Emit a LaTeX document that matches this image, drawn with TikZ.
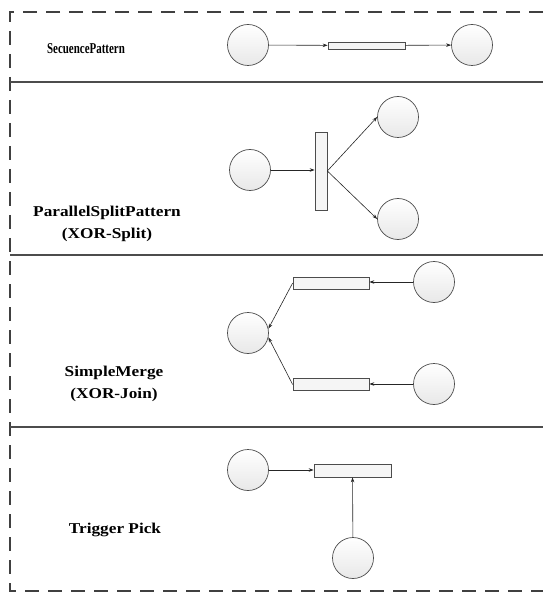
\documentclass[tikz,border=0pt]{standalone}
\usepackage{fontspec}
\setmainfont{Liberation Serif}
\usetikzlibrary{arrows.meta, positioning}

\begin{document}
\begin{tikzpicture}[x=1pt, y=-1pt,
    plc/.style={draw=gray!60!black, circle, minimum size=41pt, inner sep=0pt, top color=white, bottom color=gray!18, line width=0.7pt},
    trans/.style={draw=gray!60!black, rectangle, inner sep=0pt, fill=gray!8, line width=0.7pt},
    lbl/.style={font=\bfseries\fontsize{15}{21.5}\selectfont\addfontfeature{FakeStretch=1.15}, align=center},
    arr/.style={-{Stealth[length=5pt,width=3.5pt]}, draw=gray!30!black, line width=0.6pt},
    sep/.style={draw=gray!60!black, line width=1.3pt},
    frm/.style={draw=gray!50!black, line width=1.4pt, dash pattern=on 14pt off 9pt}]
    \useasboundingbox (0,0) rectangle (543,593);
    % frame and rows
    \draw[frm] (543,12) -- (10,12) -- (10,591) -- (543,591);
    \draw[sep] (10,82) -- (543,82);
    \draw[sep] (10,255) -- (543,255);
    \draw[sep] (10,427) -- (543,427);

    % Sequence
    \node[lbl, font=\bfseries\fontsize{15}{21.5}\selectfont\addfontfeature{FakeStretch=0.73}] (seqlbl) at (86,49) {SecuencePattern};
    \node[plc] (seqin) at (248,45) {};
    \node[trans, minimum width=77pt, minimum height=7pt] (seqt) at (366.5,45.5) {};
    \node[plc] (seqout) at (472,45) {};
    \draw[arr] (seqin) -- (seqt);
    \draw[arr] (seqt) -- (seqout);

    % Parallel split
    \node[lbl] (splbl) at (107,224) {ParallelSplitPattern\\(XOR-Split)};
    \node[plc] (spin) at (250,170) {};
    \node[trans, minimum width=12pt, minimum height=78pt] (spt) at (321,171) {};
    \node[plc] (spa) at (398,117) {};
    \node[plc] (spb) at (398,219) {};
    \draw[arr] (spin) -- (spin -| spt.west);
    \draw[arr] (spt.east) -- (spa.west);
    \draw[arr] (spt.east) -- (spb.west);

    % Simple merge
    \node[lbl] (mglbl) at (114,384) {SimpleMerge\\(XOR-Join)};
    \node[plc] (mgout) at (248,333) {};
    \node[trans, minimum width=76pt, minimum height=12pt] (mga) at (331,283) {};
    \node[trans, minimum width=76pt, minimum height=12pt] (mgb) at (331,384.5) {};
    \node[plc] (mgia) at (434,282) {};
    \node[plc] (mgib) at (434,384) {};
    \draw[arr] (mgia) -- (mgia -| mga.east);
    \draw[arr] (mgib) -- (mgib -| mgb.east);
    \draw[arr] (mga.west) -- (mgout.12);
    \draw[arr] (mgb.west) -- (mgout.-12);

    % Trigger
    \node[lbl] (trlbl) at (115,530) {Trigger Pick};
    \node[plc] (trin) at (248,470) {};
    \node[trans, minimum width=77pt, minimum height=13pt] (trt) at (352.5,470.5) {};
    \node[plc] (trtrg) at (353,558) {};
    \draw[arr] (trin) -- (trin -| trt.west);
    \draw[arr] (trtrg) -- (trt);
\end{tikzpicture}
\end{document}
